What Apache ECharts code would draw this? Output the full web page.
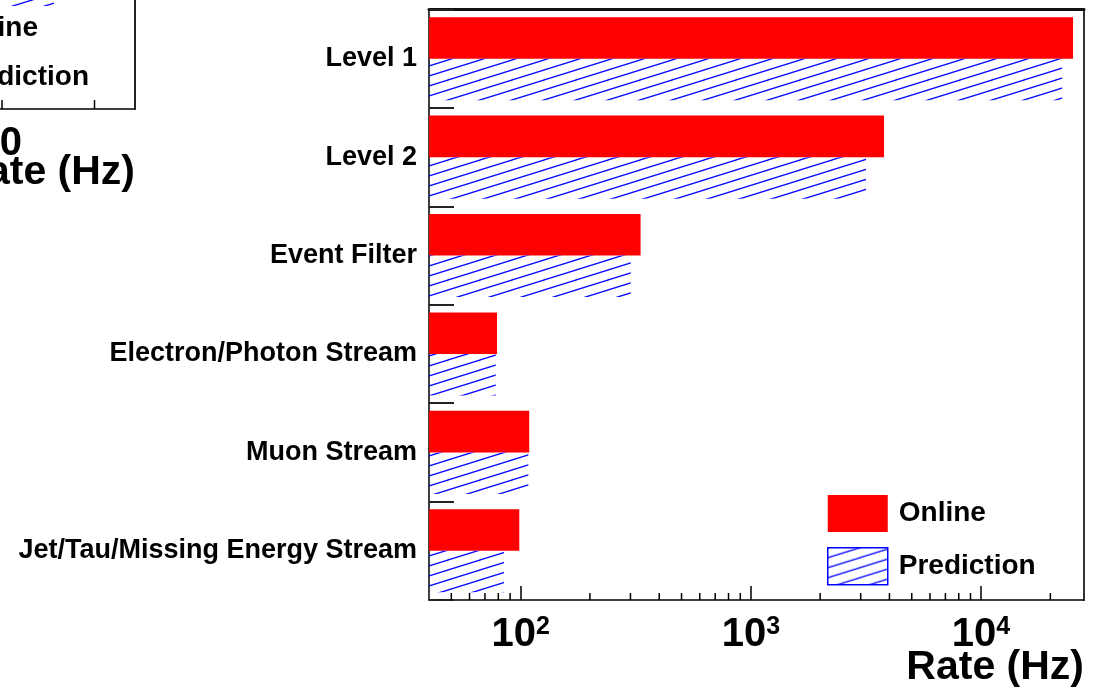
<!DOCTYPE html>
<html>
<head>
<meta charset="utf-8">
<script src="https://cdn.jsdelivr.net/npm/echarts@6/dist/echarts.min.js"></script>
<style>
  html, body { margin: 0; padding: 0; background: #ffffff; }
  #chart { width: 1102px; height: 689px; }
</style>
</head>
<body>
<div id="chart"></div>
<script>
// Trigger rates per selection level, in Hz
const categories = [
  'Level 1',
  'Level 2',
  'Event Filter',
  'Electron/Photon Stream',
  'Muon Stream',
  'Jet/Tau/Missing Energy Stream'
];
const onlineRates = [25100, 3790, 332, 79, 109, 98.7];
const predictionRates = [22500, 3165, 301, 78, 108, 84.7];
const seriesNames = ['Online', 'Prediction'];

// Rate axis (log) range and the intermediate tick values of each decade
const rateRange = [40, 28000];
const minorTickValues = [
  50, 60, 70, 80, 90,
  200, 300, 400, 500, 600, 700, 800, 900,
  2000, 3000, 4000, 5000, 6000, 7000, 8000, 9000,
  20000
];
const axisTitle = 'Rate (Hz)';

const FONT = '"Liberation Sans", Arial, Helvetica, sans-serif';

// Diagonal hatch tile, repeated over the prediction bars
function hatchPattern() {
  const w = 32, h = 10;
  const c = document.createElement('canvas');
  c.width = w; c.height = h;
  const g = c.getContext('2d');
  g.strokeStyle = '#0a0aff';
  g.lineWidth = 1.3;
  for (let m = -1; m <= 2; m++) {
    g.beginPath();
    g.moveTo(-4, h + m * h + 4 * h / w);
    g.lineTo(w + 4, h + m * h - (w + 4) * h / w);
    g.stroke();
  }
  return { image: c, repeat: 'repeat' };
}
const hatch = hatchPattern();

function powerLabel(value) {
  const e = Math.log10(value);
  const r = Math.round(e);
  if (Math.abs(e - r) > 1e-6) return '';
  return '{b|10}{s|' + r + '}';
}

const chart = echarts.init(document.getElementById('chart'), null, { renderer: 'canvas' });

chart.setOption({
  animation: false,
  backgroundColor: '#ffffff',
  textStyle: { fontFamily: FONT },
  grid: { left: 429, right: 18, top: 9.5, bottom: 89, containLabel: false, outerBoundsMode: 'none' },
  xAxis: [
    {
      type: 'log',
      min: rateRange[0],
      max: rateRange[1],
      logBase: 10,
      position: 'bottom',
      splitLine: { show: false },
      axisLine: { show: true, lineStyle: { color: '#000', width: 1.5 } },
      axisTick: { show: true, inside: true, length: 14, lineStyle: { color: '#000', width: 1.5 } },
      minorTick: { show: false },
      axisLabel: {
        margin: 15,
        showMinLabel: false,
        showMaxLabel: false,
        formatter: powerLabel,
        rich: {
          b: { fontSize: 40, fontWeight: 'bold', fontFamily: FONT, color: '#000', lineHeight: 40, verticalAlign: 'bottom' },
          s: { fontSize: 25, fontWeight: 'bold', fontFamily: FONT, color: '#000', lineHeight: 14, verticalAlign: 'top' }
        }
      }
    },
    {
      type: 'log',
      min: rateRange[0],
      max: rateRange[1],
      position: 'top',
      splitLine: { show: false },
      axisLine: { show: true, lineStyle: { color: '#111', width: 3 } },
      axisTick: { show: false },
      axisLabel: { show: false }
    }
  ],
  yAxis: [
    {
      type: 'category',
      data: categories,
      inverse: true,
      position: 'left',
      axisLine: { show: true, lineStyle: { color: '#000', width: 1.5 } },
      axisTick: { show: true, inside: true, length: 25, interval: 0, lineStyle: { color: '#222', width: 2 } },
      axisLabel: {
        margin: 12,
        interval: 0,
        fontSize: 27,
        fontWeight: 'bold',
        fontFamily: FONT,
        color: '#000',
        padding: [4, 0, 0, 0]
      },
      splitLine: { show: false }
    },
    {
      type: 'category',
      data: categories,
      inverse: true,
      position: 'right',
      axisLine: { show: true, lineStyle: { color: '#333', width: 2 } },
      axisTick: { show: false },
      axisLabel: { show: false }
    }
  ],
  legend: {
    orient: 'vertical',
    left: 827,
    top: 495,
    padding: 0,
    itemWidth: 60,
    itemHeight: 37,
    itemGap: 15,
    selectedMode: false,
    textStyle: { fontSize: 28, fontWeight: 'bold', fontFamily: FONT, color: '#000', padding: [6, 0, 0, 6] },
    data: [
      { name: seriesNames[0], icon: 'rect' },
      { name: seriesNames[1], icon: 'rect', itemStyle: { borderColor: '#0000ff', borderWidth: 1.5 } }
    ]
  },
  series: [
    {
      name: seriesNames[0],
      type: 'bar',
      xAxisIndex: 0,
      yAxisIndex: 0,
      data: onlineRates,
      barGap: '0%',
      barCategoryGap: '15.5%',
      itemStyle: { color: '#ff0000' },
      z: 2
    },
    {
      name: seriesNames[1],
      type: 'bar',
      xAxisIndex: 0,
      yAxisIndex: 0,
      data: predictionRates,
      barGap: '0%',
      barCategoryGap: '15.5%',
      itemStyle: { color: hatch },
      z: 2
    },
    {
      // short ticks for the intermediate values of each decade
      type: 'custom',
      xAxisIndex: 0,
      yAxisIndex: 0,
      silent: true,
      clip: false,
      z: 5,
      data: minorTickValues.map(v => [v, 0]),
      renderItem(params, api) {
        const cs = params.coordSys;
        const x = api.coord([api.value(0), 0])[0];
        const yb = cs.y + cs.height;
        return {
          type: 'line',
          shape: { x1: x, y1: yb, x2: x, y2: yb - 7 },
          style: { stroke: '#000', lineWidth: 1.5 }
        };
      }
    }
  ],
  graphic: [
    // axis title, right-aligned under the end of the rate axis
    {
      type: 'text', silent: true, right: 18, top: 647,
      style: { text: axisTitle, fill: '#000', font: 'bold 41px ' + FONT }
    },
    // corner of the neighbouring panel
    {
      type: 'rect', silent: true,
      shape: { x: 4, y: -12, width: 50, height: 18 },
      style: { fill: hatch }
    },
    { type: 'line', silent: true, shape: { x1: 0, y1: 109, x2: 136, y2: 109 }, style: { stroke: '#000', lineWidth: 1.5 } },
    { type: 'line', silent: true, shape: { x1: 135, y1: 0, x2: 135, y2: 109.75 }, style: { stroke: '#222', lineWidth: 2 } },
    { type: 'line', silent: true, shape: { x1: 2, y1: 109, x2: 2, y2: 100 }, style: { stroke: '#000', lineWidth: 1.5 } },
    { type: 'line', silent: true, shape: { x1: 94.5, y1: 109, x2: 94.5, y2: 100 }, style: { stroke: '#000', lineWidth: 1.5 } },
    {
      type: 'text', silent: true,
      style: { text: 'Online', x: 38, y: 28, align: 'right', verticalAlign: 'middle', fill: '#000', font: 'bold 28px ' + FONT }
    },
    {
      type: 'text', silent: true,
      style: { text: 'Prediction', x: 89, y: 77, align: 'right', verticalAlign: 'middle', fill: '#000', font: 'bold 28px ' + FONT }
    },
    {
      type: 'text', silent: true,
      style: { text: '10', x: 22, y: 144, align: 'right', verticalAlign: 'middle', fill: '#000', font: 'bold 40px ' + FONT }
    },
    {
      type: 'text', silent: true,
      style: { text: axisTitle, x: 135, y: 173, align: 'right', verticalAlign: 'middle', fill: '#000', font: 'bold 41px ' + FONT }
    }
  ]
});
</script>
</body>
</html>
